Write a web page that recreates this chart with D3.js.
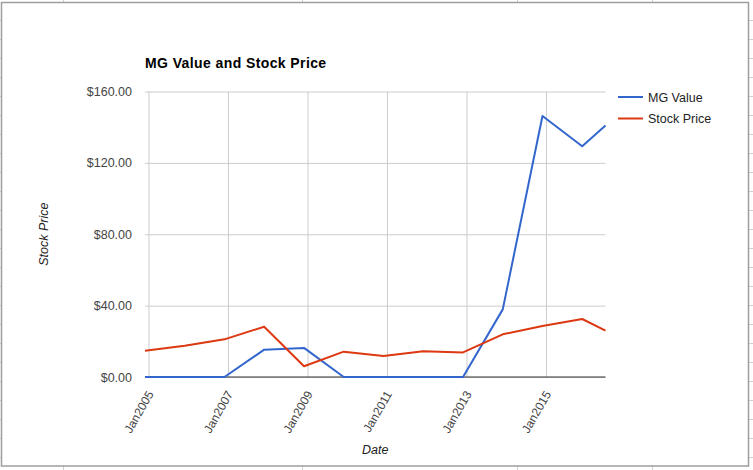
<!DOCTYPE html>
<html>
<head>
<meta charset="utf-8">
<script src="https://cdn.jsdelivr.net/npm/d3@7"></script>
<style>
  html, body { margin: 0; padding: 0; background: #fff; }
  svg { display: block; }
  text { font-family: "Liberation Sans", Arial, sans-serif; }
</style>
</head>
<body>
<svg id="chart" width="753" height="470"></svg>
<script>
// ---- data ----
const dates = ["2004-11-30","2005-11-30","2006-11-30","2007-11-30","2008-11-30","2009-11-30",
               "2010-11-30","2011-11-30","2012-11-30","2013-11-30","2014-11-30","2015-11-30","2016-07-01"];
const mgValue = [0, 0, 0, 15.3, 16.3, 0, 0, 0, 0, 37.9, 146.3, 129.3, 140.9];
const stockPrice = [14.7, 17.5, 21.1, 28.2, 6.0, 14.2, 11.8, 14.4, 13.8, 23.9, 28.6, 32.5, 26.0];
const seriesNames = ["MG Value", "Stock Price"];
const xTickYears = [2005, 2007, 2009, 2011, 2013, 2015];
const yTicks = [0, 40, 80, 120, 160];
const title = "MG Value and Stock Price";
const xTitle = "Date";
const yTitle = "Stock Price";

// ---- drawing ----
const W = 753, H = 470;
const svg = d3.select("#chart");
const parse = d3.timeParse("%Y-%m-%d");
const dts = dates.map(parse);
const colors = ["#3366cc", "#dc3912"];

// spreadsheet background marks
const sheetCols = [63, 302, 517, 652];
svg.append("g").selectAll("line.top").data(sheetCols).join("line")
  .attr("x1", d => d + 0.5).attr("x2", d => d + 0.5).attr("y1", 0).attr("y2", 2)
  .attr("stroke", "#d0d0d0");
svg.append("g").selectAll("line.bot").data(sheetCols).join("line")
  .attr("x1", d => d + 0.5).attr("x2", d => d + 0.5).attr("y1", 466).attr("y2", H)
  .attr("stroke", "#d0d0d0");
const sheetRows = d3.range(20, 466, 19);
svg.append("g").selectAll("line").data(sheetRows).join("line")
  .attr("x1", 749).attr("x2", W).attr("y1", d => d + 0.5).attr("y2", d => d + 0.5)
  .attr("stroke", "#d0d0d0");
svg.append("g").selectAll("line").data(sheetRows).join("line")
  .attr("x1", 0).attr("x2", 1).attr("y1", d => d + 0.5).attr("y2", d => d + 0.5)
  .attr("stroke", "#d0d0d0");

// chart frame
svg.append("rect").attr("x", 1.5).attr("y", 2.5).attr("width", 747).attr("height", 463.5)
  .attr("fill", "#fff").attr("stroke", "#9e9e9e").attr("stroke-width", 1.5);

const plot = { left: 145, right: 605.5, top: 91.5, bottom: 377 };
const x = d3.scaleTime().domain(d3.extent(dts)).range([plot.left, plot.right]);
const y = d3.scaleLinear().domain([0, 160]).range([plot.bottom, plot.top]);

// gridlines
const xTicks = xTickYears.map(yr => new Date(yr, 0, 1));
svg.append("g")
  .attr("transform", `translate(0,${plot.bottom})`)
  .call(d3.axisBottom(x).tickValues(xTicks).tickSize(-(plot.bottom - plot.top)).tickFormat(""))
  .call(g => g.select(".domain").remove())
  .call(g => g.selectAll("line").attr("stroke", "#cccccc"));
svg.append("g")
  .attr("transform", `translate(${plot.left},0)`)
  .call(d3.axisLeft(y).tickValues(yTicks).tickSize(-(plot.right - plot.left)).tickFormat(""))
  .call(g => g.select(".domain").remove())
  .call(g => g.selectAll("line").attr("stroke", "#cccccc"));

// y labels
svg.append("g")
  .attr("transform", `translate(${plot.left},0)`)
  .call(d3.axisLeft(y).tickValues(yTicks).tickSize(0).tickPadding(13)
        .tickFormat(d => "$" + d3.format(".2f")(d)))
  .call(g => g.select(".domain").remove())
  .call(g => g.selectAll("text").attr("fill", "#444").attr("font-size", 12.5)
                .attr("font-family", "Liberation Sans, Arial, sans-serif"));

// x labels
const xAx = svg.append("g")
  .attr("transform", `translate(0,${plot.bottom})`)
  .call(d3.axisBottom(x).tickValues(xTicks).tickSize(0).tickFormat(d3.timeFormat("Jan%Y")))
  .call(g => g.select(".domain").remove());
xAx.selectAll("text")
  .attr("fill", "#444").attr("font-size", 12)
  .attr("font-family", "Liberation Sans, Arial, sans-serif")
  .attr("text-anchor", "end")
  .attr("dy", null).attr("y", 0)
  .attr("transform", "translate(5,17) rotate(-60)");

// baseline
svg.append("line")
  .attr("x1", plot.left).attr("x2", plot.right)
  .attr("y1", y(0)).attr("y2", y(0))
  .attr("stroke", "#333").attr("stroke-width", 1);

// lines
const seriesData = [mgValue, stockPrice];
const line = d3.line().x((d, i) => x(dts[i])).y(d => y(d));
seriesData.forEach((s, k) => {
  svg.append("path").datum(s).attr("d", line)
    .attr("fill", "none").attr("stroke", colors[k]).attr("stroke-width", 2)
    .attr("stroke-linejoin", "round");
});

// title
svg.append("text").attr("x", 145).attr("y", 68)
  .attr("font-size", 14).attr("font-weight", "bold").attr("fill", "#000")
  .attr("letter-spacing", 0.4).text(title);

// axis titles
svg.append("text").attr("x", (plot.left + plot.right) / 2).attr("y", 454)
  .attr("text-anchor", "middle").attr("font-size", 12.5).attr("font-style", "italic")
  .attr("fill", "#222").text(xTitle);
svg.append("text")
  .attr("transform", `translate(48,${(plot.top + plot.bottom) / 2}) rotate(-90)`)
  .attr("text-anchor", "middle").attr("font-size", 12.5).attr("font-style", "italic")
  .attr("fill", "#222").text(yTitle);

// legend
const leg = svg.append("g");
seriesNames.forEach((n, k) => {
  const ly = 97 + k * 21.5;
  leg.append("line").attr("x1", 618).attr("x2", 643).attr("y1", ly).attr("y2", ly)
    .attr("stroke", colors[k]).attr("stroke-width", 2);
  leg.append("text").attr("x", 648).attr("y", ly + 4.5).attr("font-size", 12.5)
    .attr("fill", "#222").text(n);
});
</script>
</body>
</html>
